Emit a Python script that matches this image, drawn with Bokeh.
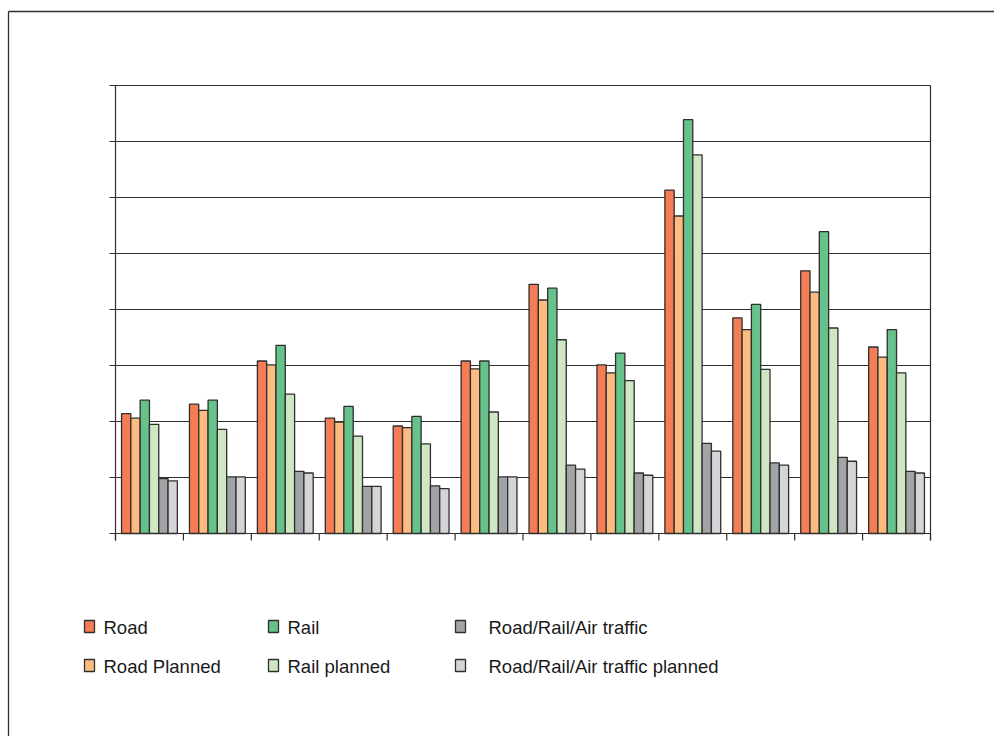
from bokeh.plotting import figure
from bokeh.models import Range1d
from bokeh.core.properties import value
from bokeh.embed import file_html
from bokeh.resources import INLINE

# ---- data -------------------------------------------------------------
categories = list(range(1, 13))
road = [2.14, 2.31, 3.08, 2.06, 1.92, 3.08, 4.45, 3.01, 6.13, 3.85, 4.69, 3.33]
road_planned = [2.06, 2.20, 3.01, 1.99, 1.89, 2.94, 4.17, 2.87, 5.67, 3.64, 4.31, 3.15]
rail = [2.38, 2.38, 3.36, 2.27, 2.09, 3.08, 4.38, 3.22, 7.39, 4.09, 5.39, 3.64]
rail_planned = [1.95, 1.86, 2.49, 1.74, 1.60, 2.17, 3.46, 2.73, 6.76, 2.93, 3.67, 2.87]
mixed = [0.98, 1.01, 1.11, 0.84, 0.85, 1.01, 1.22, 1.08, 1.61, 1.26, 1.36, 1.11]
mixed_planned = [0.94, 1.01, 1.08, 0.84, 0.80, 1.01, 1.15, 1.04, 1.47, 1.22, 1.29, 1.08]
y_ticks = [0, 1, 2, 3, 4, 5, 6, 7, 8]

series_names = ["Road", "Road Planned", "Rail", "Rail planned",
                "Road/Rail/Air traffic", "Road/Rail/Air traffic planned"]
series_values = [road, road_planned, rail, rail_planned, mixed, mixed_planned]
series_colors = ["#F47D55", "#FDBB80", "#66C28A", "#D0E7C4", "#A2A3A7", "#D4D5D7"]

# ---- canvas layout (pixels) ---------------------------------------------
W, H = 994, 736
PLOT_L, PLOT_R, PLOT_T, PLOT_B = 115, 930, 85, 533
n_cat = len(categories)
cat_px = (PLOT_R - PLOT_L) / n_cat
unit_px = (PLOT_B - PLOT_T) / y_ticks[-1]


def px_x(px):
    return (px - PLOT_L) / cat_px


def px_y(py):
    return (PLOT_B - py) / unit_px


p = figure(width=W, height=H, output_backend="svg", toolbar_location=None,
           x_range=Range1d(px_x(0), px_x(W)), y_range=Range1d(px_y(H), px_y(0)),
           min_border=0, x_axis_location=None, y_axis_location=None)
p.grid.visible = False
p.outline_line_color = None
p.background_fill_color = "white"
p.border_fill_color = "white"

line_col = "#2f2f2f"

# outer frame (top and left edges)
p.segment(x0=[px_x(8), px_x(8)], y0=[px_y(11), px_y(11)],
          x1=[px_x(W), px_x(8)], y1=[px_y(11), px_y(H)],
          line_color=line_col, line_width=1.3)

# horizontal gridlines with outward ticks on the value axis
tick_x = 6 / cat_px
tick_y = 7 / unit_px
p.segment(x0=[-tick_x] * (len(y_ticks) - 1), y0=y_ticks[1:],
          x1=[n_cat] * (len(y_ticks) - 1), y1=y_ticks[1:],
          line_color=line_col, line_width=1.2)
p.segment(x0=[-tick_x], y0=[0], x1=[0], y1=[0], line_color=line_col, line_width=1.2)

# category axis and its ticks
p.segment(x0=[0], y0=[0], x1=[n_cat], y1=[0], line_color=line_col, line_width=1.2)
p.segment(x0=list(range(n_cat + 1)), y0=[-tick_y] * (n_cat + 1),
          x1=list(range(n_cat + 1)), y1=[0] * (n_cat + 1),
          line_color=line_col, line_width=1.2)

# left value axis and right plot edge
p.segment(x0=[0, n_cat], y0=[-tick_y, -tick_y], x1=[0, n_cat], y1=[y_ticks[-1]] * 2,
          line_color=line_col, line_width=1.2)

# grouped bars
bar_w = 0.137
for i, (vals, col) in enumerate(zip(series_values, series_colors)):
    xs = [k + 0.5 + (i - 2.5) * bar_w for k in range(n_cat)]
    p.vbar(x=xs, top=vals, bottom=0, width=bar_w, fill_color=col,
           line_color=line_col, line_width=1.3)

# legend: two rows, three columns
leg_sq_x = [84, 268, 455]
leg_tx_x = [103, 287, 488]
leg_row_y = [627, 666]
sq_w, sq_h = 10, 12
for idx, (name, col) in enumerate(zip(series_names, series_colors)):
    c, r = idx // 2, idx % 2
    x0 = leg_sq_x[c]
    yc = leg_row_y[r]
    p.quad(left=[px_x(x0)], right=[px_x(x0 + sq_w)],
           top=[px_y(yc - sq_h / 2 - 1)], bottom=[px_y(yc + sq_h / 2 - 1)],
           fill_color=col, line_color=line_col, line_width=1.3)
    p.text(x=[px_x(leg_tx_x[c])], y=[px_y(yc)], text=[name],
           text_font=value("Liberation Sans"), text_font_size="18.5px",
           text_color="#1a1a1a", text_align="left", text_baseline="middle")

open("out.html", "w").write(file_html(p, INLINE))
